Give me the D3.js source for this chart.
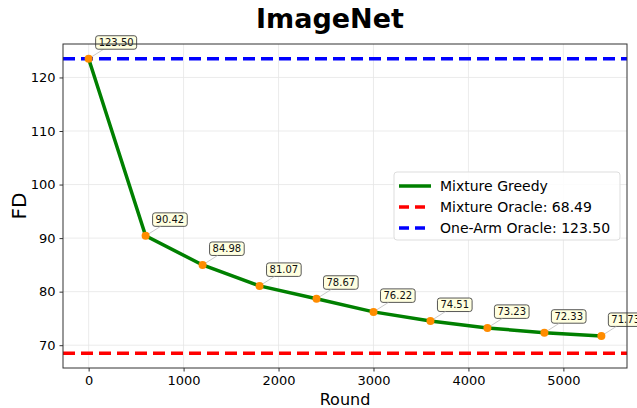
<!DOCTYPE html>
<html>
<head>
<meta charset="utf-8">
<script src="https://cdn.jsdelivr.net/npm/d3@7"></script>
<style>
  body { margin: 0; background: #fff; }
  text { font-family: "DejaVu Sans", sans-serif; }
</style>
</head>
<body>
<svg id="chart" width="637" height="408"></svg>
<script>
// data
const rounds = [0, 600, 1200, 1800, 2400, 3000, 3600, 4200, 4800, 5400];
const fdValues = [123.50, 90.42, 84.98, 81.07, 78.67, 76.22, 74.51, 73.23, 72.33, 71.73];
const mixtureOracle = 68.49;
const oneArmOracle = 123.50;
const xTicks = [0, 1000, 2000, 3000, 4000, 5000];
const yTicks = [70, 80, 90, 100, 110, 120];
const legendLabels = ["Mixture Greedy", "Mixture Oracle: 68.49", "One-Arm Oracle: 123.50"];

const svg = d3.select("#chart");
const m = {left: 63, right: 627, top: 44, bottom: 368};

const x = d3.scaleLinear().domain([-270, 5670]).range([m.left, m.right]);
const y = d3.scaleLinear().domain([65.74, 126.25]).range([m.bottom, m.top]);

// grid
svg.append("g").selectAll("line").data(xTicks).join("line")
  .attr("x1", d => x(d)).attr("x2", d => x(d))
  .attr("y1", m.top).attr("y2", m.bottom)
  .attr("stroke", "#e6e6e6").attr("stroke-width", 0.8);
svg.append("g").selectAll("line").data(yTicks).join("line")
  .attr("y1", d => y(d)).attr("y2", d => y(d))
  .attr("x1", m.left).attr("x2", m.right)
  .attr("stroke", "#e6e6e6").attr("stroke-width", 0.8);

// axes
const xAxis = svg.append("g").attr("transform", `translate(0,${m.bottom})`)
  .call(d3.axisBottom(x).tickValues(xTicks).tickSize(3.5).tickPadding(4).tickFormat(d3.format("d")));
const yAxis = svg.append("g").attr("transform", `translate(${m.left},0)`)
  .call(d3.axisLeft(y).tickValues(yTicks).tickSize(3.5).tickPadding(4).tickFormat(d3.format("d")));
[xAxis, yAxis].forEach(g => {
  g.selectAll("text").style("font-size", "13px").attr("fill", "#000");
  g.select(".domain").remove();
  g.selectAll(".tick line").attr("stroke", "#333");
});

// oracle lines
svg.append("line")
  .attr("x1", m.left).attr("x2", m.right)
  .attr("y1", y(mixtureOracle)).attr("y2", y(mixtureOracle))
  .attr("stroke", "red").attr("stroke-width", 3.5).attr("stroke-dasharray", "12,6");
svg.append("line")
  .attr("x1", m.left).attr("x2", m.right)
  .attr("y1", y(oneArmOracle)).attr("y2", y(oneArmOracle))
  .attr("stroke", "blue").attr("stroke-width", 3.5).attr("stroke-dasharray", "12,6");

// greedy line
const pts = rounds.map((r, i) => ({r: r, v: fdValues[i]}));
svg.append("path").datum(pts)
  .attr("d", d3.line().x(d => x(d.r)).y(d => y(d.v)))
  .attr("fill", "none").attr("stroke", "green").attr("stroke-width", 3.5);

// annotations
const ann = svg.append("g");
pts.forEach(d => {
  const px = x(d.r), py = y(d.v);
  const bx = px + 7, by = py - 23;
  ann.append("line").attr("x1", px).attr("y1", py).attr("x2", bx + 8).attr("y2", by + 13.5)
    .attr("stroke", "#bbb").attr("stroke-width", 0.8);
  const t = ann.append("text").attr("x", bx + 3).attr("y", by + 10)
    .style("font-size", "10px").attr("fill", "#111").text(d.v.toFixed(2));
  const w = t.node().getComputedTextLength();
  ann.insert("rect", "text").attr("x", bx).attr("y", by).attr("width", w + 6).attr("height", 13.5)
    .attr("rx", 2.5).attr("fill", "#ffffe0").attr("stroke", "#444").attr("stroke-width", 0.9);
});

svg.append("g").selectAll("circle").data(pts).join("circle")
  .attr("cx", d => x(d.r)).attr("cy", d => y(d.v)).attr("r", 4)
  .attr("fill", "darkorange");

// frame
svg.append("rect").attr("x", m.left).attr("y", m.top)
  .attr("width", m.right - m.left).attr("height", m.bottom - m.top)
  .attr("fill", "none").attr("stroke", "#333").attr("stroke-width", 1);

// legend
const lg = svg.append("g").attr("transform", "translate(394,172)");
lg.append("rect").attr("width", 226).attr("height", 68).attr("rx", 3)
  .attr("fill", "rgba(255,255,255,0.85)").attr("stroke", "#ddd");
const lgStyles = [
  {c: "green", dash: null},
  {c: "red", dash: "10,6"},
  {c: "blue", dash: "10,6"}
];
legendLabels.forEach((lab, i) => {
  const yy = 14 + i * 21;
  lg.append("line").attr("x1", 5).attr("x2", 37).attr("y1", yy).attr("y2", yy)
    .attr("stroke", lgStyles[i].c).attr("stroke-width", 3.5)
    .attr("stroke-dasharray", lgStyles[i].dash);
  lg.append("text").attr("x", 46).attr("y", yy + 5).style("font-size", "14px").text(lab);
});

// titles
svg.append("text").attr("x", 330).attr("y", 28).attr("text-anchor", "middle")
  .style("font-size", "27px").style("font-weight", "bold").text("ImageNet");
svg.append("text").attr("x", 345).attr("y", 405).attr("text-anchor", "middle")
  .style("font-size", "16px").text("Round");
svg.append("text").attr("transform", "translate(26,206) rotate(-90)").attr("text-anchor", "middle")
  .style("font-size", "20px").text("FD");
</script>
</body>
</html>
